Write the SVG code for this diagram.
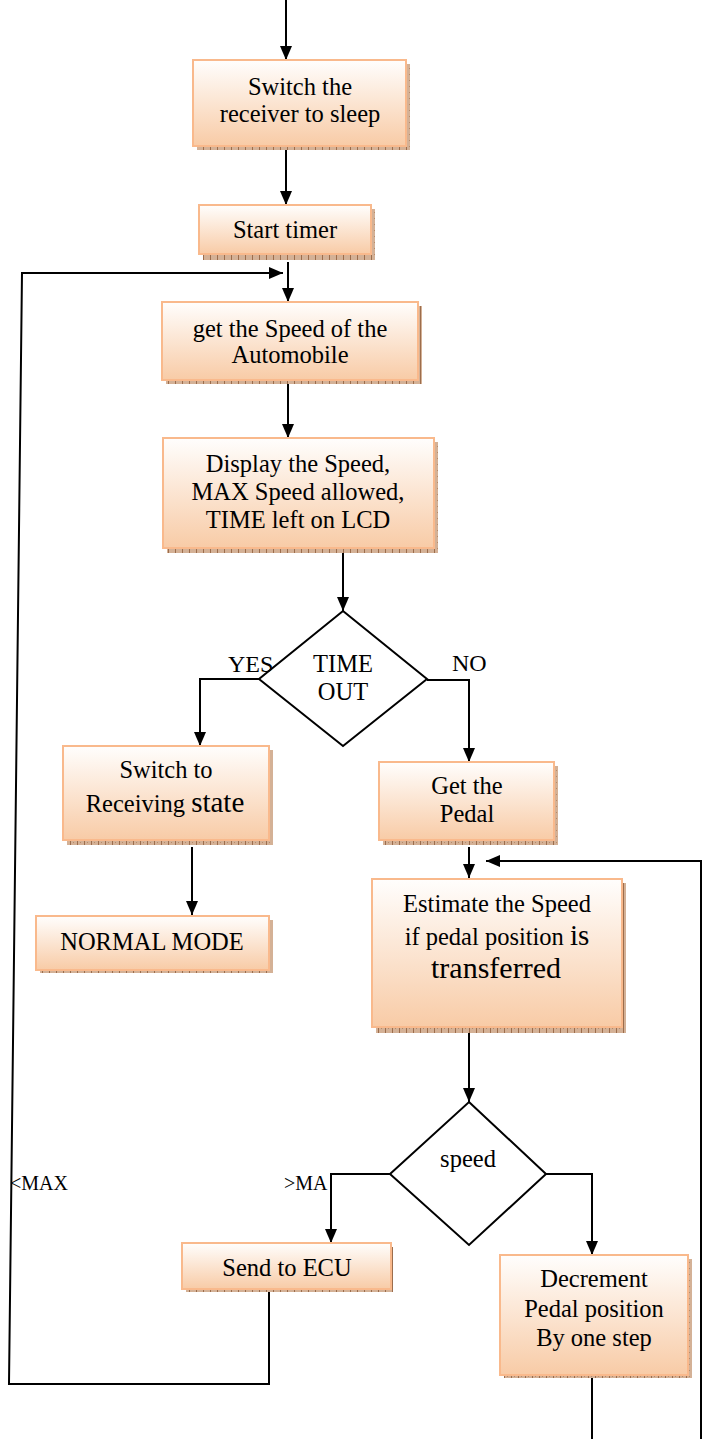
<svg xmlns="http://www.w3.org/2000/svg" width="705" height="1439" viewBox="0 0 705 1439">
<defs>
<linearGradient id="peach" x1="0" y1="0" x2="0" y2="1">
<stop offset="0" stop-color="#fffefd"/>
<stop offset="1" stop-color="#f8cba6"/>
</linearGradient>
<pattern id="hatch" width="7" height="6" patternUnits="userSpaceOnUse">
<rect width="7" height="6" fill="#d4b196"/>
<rect x="0" y="0" width="1" height="6" fill="#9c6d4c"/>
<rect x="3" y="2" width="1" height="1" fill="#b88a68"/>
</pattern>
<marker id="arr" markerWidth="14" markerHeight="12" refX="14" refY="6" orient="auto" markerUnits="userSpaceOnUse">
<path d="M0,0 L14,6 L0,12 z" fill="#000"/>
</marker>
<style>
.sh{fill:url(#hatch)}
.bx{fill:url(#peach);stroke:#f9b98c;stroke-width:2}
.dm{fill:#fff;stroke:#000;stroke-width:2}
.t{font-family:"Liberation Serif","Times New Roman",serif;font-size:24.5px;fill:#000;text-anchor:middle}
.big{font-size:30px}
.lb{font-family:"Liberation Serif","Times New Roman",serif;font-size:24px;fill:#000}
.sm{font-family:"Liberation Serif","Times New Roman",serif;font-size:20px;fill:#000}
.c{fill:none;stroke:#000;stroke-width:2}
.a{marker-end:url(#arr)}
</style>
</defs>
<rect width="705" height="1439" fill="#fff"/>

<g id="connectors">
<path class="c a" d="M286,0 V60"/>
<path class="c a" d="M286,150 V205"/>
<path class="c a" d="M288,262 V302"/>
<path class="c a" d="M269,1292 V1384 H9 L22,273 H283"/>
<path class="c a" d="M288,384 V438"/>
<path class="c a" d="M343,553 V611"/>
<path class="c a" d="M259,679 H200 V746"/>
<path class="c a" d="M427,680 H469 V762"/>
<path class="c a" d="M192,847 V915"/>
<path class="c a" d="M469,847 V878"/>
<path class="c a" d="M701,1439 V861 H486"/>
<path class="c a" d="M469,1033 V1102"/>
<path class="c a" d="M390,1174 H331 V1243"/>
<path class="c a" d="M546,1174 H592 V1255"/>
<path class="c" d="M592,1378 V1439"/>
</g>

<g id="n-sleep">
<rect class="sh" x="197" y="64" width="213" height="86"/>
<rect class="bx" x="193" y="60" width="213" height="86"/>
<text class="t" x="300" y="95">Switch the</text>
<text class="t" x="300" y="122">receiver to sleep</text>
</g>

<g id="n-timer">
<rect class="sh" x="203" y="209" width="172" height="51"/>
<rect class="bx" x="199" y="205" width="172" height="49"/>
<text class="t" x="285" y="238">Start timer</text>
</g>

<g id="n-getspeed">
<rect class="sh" x="166" y="306" width="256" height="78"/>
<rect class="bx" x="162" y="302" width="256" height="78"/>
<text class="t" x="290" y="337">get the Speed of the</text>
<text class="t" x="290" y="363">Automobile</text>
</g>

<g id="n-display">
<rect class="sh" x="167" y="442" width="271" height="111"/>
<rect class="bx" x="163" y="438" width="271" height="110"/>
<text class="t" x="298" y="472">Display the Speed,</text>
<text class="t" x="298" y="500">MAX Speed allowed,</text>
<text class="t" x="298" y="528">TIME left on LCD</text>
</g>

<g id="n-timeout">
<polygon class="dm" points="343,611 427,679 343,746 259,679"/>
<text class="t" x="343" y="672">TIME</text>
<text class="t" x="343" y="700">OUT</text>
</g>

<g id="labels">
<text class="lb" x="228" y="672">YES</text>
<text class="lb" x="452" y="671">NO</text>
<text class="sm" x="284" y="1190">&gt;MA</text>
<text class="sm" x="10" y="1190">&lt;MAX</text>
</g>

<g id="n-receiving">
<rect class="sh" x="67" y="750" width="206" height="95"/>
<rect class="bx" x="63" y="746" width="206" height="94"/>
<text class="t" x="166" y="778">Switch to</text>
<text class="t" x="165" y="812">Receiving <tspan style="font-size:29px">state</tspan></text>
</g>

<g id="n-normal">
<rect class="sh" x="40" y="920" width="233" height="53"/>
<rect class="bx" x="36" y="916" width="233" height="54"/>
<text class="t" x="152" y="950">NORMAL MODE</text>
</g>

<g id="n-pedal">
<rect class="sh" x="383" y="766" width="175" height="79"/>
<rect class="bx" x="379" y="762" width="175" height="78"/>
<text class="t" x="467" y="794">Get the</text>
<text class="t" x="467" y="822">Pedal</text>
</g>

<g id="n-estimate">
<rect class="sh" x="376" y="883" width="250" height="150"/>
<rect class="bx" x="372" y="879" width="250" height="148"/>
<text class="t" x="497" y="912">Estimate the Speed</text>
<text class="t" x="497" y="945">if pedal position <tspan style="font-size:29px">is</tspan></text>
<text class="t big" x="496" y="978">transferred</text>
</g>

<g id="n-speed">
<polygon class="dm" points="469,1102 546,1174 469,1245 390,1174"/>
<text class="t" x="468" y="1167">speed</text>
</g>

<g id="n-ecu">
<rect class="sh" x="186" y="1247" width="207" height="45"/>
<rect class="bx" x="182" y="1243" width="209" height="46"/>
<text class="t" x="287" y="1276">Send to ECU</text>
</g>

<g id="n-decrement">
<rect class="sh" x="504" y="1259" width="188" height="119"/>
<rect class="bx" x="500" y="1255" width="188" height="120"/>
<text class="t" x="594" y="1287">Decrement</text>
<text class="t" x="594" y="1317">Pedal position</text>
<text class="t" x="594" y="1346">By one step</text>
</g>
</svg>
